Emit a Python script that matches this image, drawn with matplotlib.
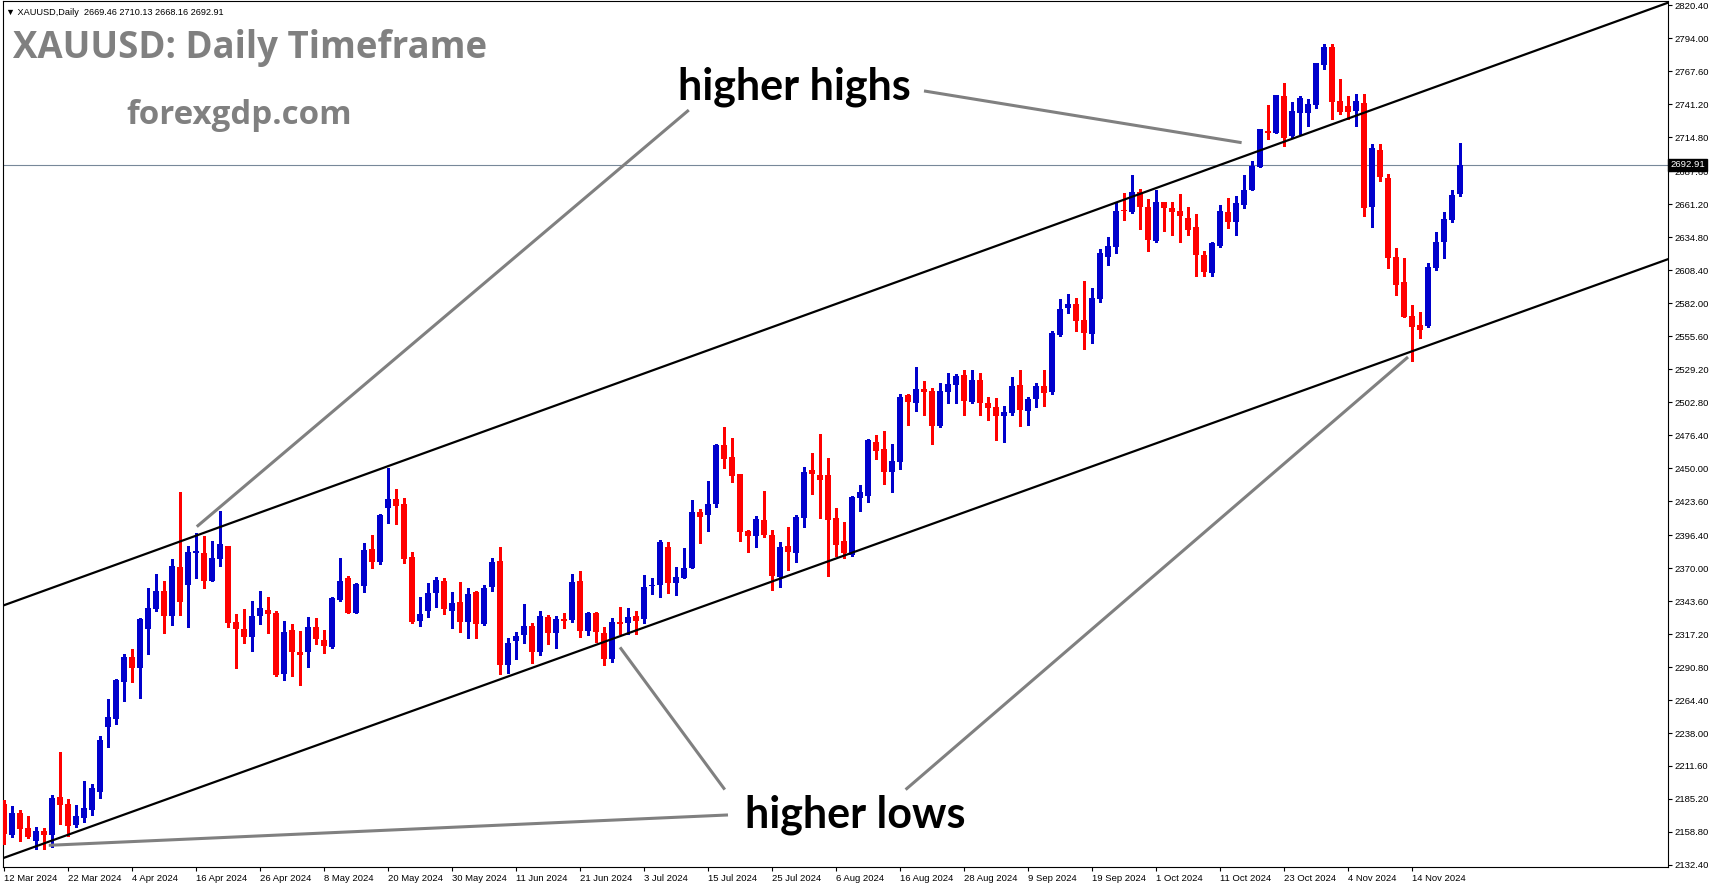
import numpy as np
import matplotlib
matplotlib.use("Agg")
import matplotlib.pyplot as plt
import matplotlib.transforms as mtransforms

# ---------------- data ----------------
opens = [2181.3, 2156.4, 2173.8, 2161.8, 2151.9, 2159.4, 2156.4, 2186.7, 2181.3, 2164.5,
         2169.8, 2176.5, 2190.7, 2242.9, 2249.5, 2279.0, 2299.1, 2289.7, 2321.0, 2337.1,
         2352.0, 2332.0, 2370.5, 2356.6, 2382.2, 2382.0, 2360.0, 2377.2, 2388.1, 2327.1,
         2321.2, 2315.0, 2331.7, 2336.8, 2334.4, 2285.6, 2320.4, 2303.0, 2303.0, 2323.1,
         2312.4, 2307.0, 2344.5, 2361.9, 2334.4, 2356.0, 2385.5, 2375.3, 2418.1, 2425.6,
         2421.3, 2379.3, 2327.9, 2335.9, 2350.4, 2360.0, 2335.9, 2343.2, 2327.1, 2351.2,
         2325.2, 2355.2, 2376.1, 2292.3, 2311.6, 2316.4, 2323.9, 2302.5, 2331.1, 2317.7,
         2329.0, 2328.4, 2360.0, 2319.9, 2334.3, 2318.2, 2297.6, 2327.1, 2325.7, 2331.9,
         2329.0, 2355.5, 2356.5, 2386.8, 2358.4, 2362.4, 2369.9, 2414.6, 2412.7, 2421.3,
         2468.9, 2458.7, 2445.4, 2400.1, 2395.9, 2408.2, 2396.2, 2362.7, 2387.4, 2382.0,
         2410.1, 2448.4, 2444.9, 2444.3, 2410.1, 2391.4, 2380.7, 2426.2, 2427.5, 2470.8,
         2465.5, 2446.8, 2454.8, 2508.6, 2502.4, 2513.7, 2511.8, 2483.7, 2511.3, 2516.6,
         2524.5, 2502.9, 2520.5, 2501.8, 2498.8, 2491.6, 2494.3, 2516.5, 2495.5, 2505.5,
         2515.7, 2510.9, 2556.6, 2578.6, 2581.8, 2568.7, 2557.7, 2585.8, 2619.3, 2627.3,
         2656.7, 2655.4, 2671.4, 2658.9, 2631.6, 2662.9, 2658.1, 2656.2, 2650.0, 2642.8,
         2620.9, 2605.9, 2628.1, 2655.4, 2646.8, 2661.0, 2673.1, 2691.5, 2719.9, 2718.3,
         2747.7, 2715.6, 2734.6, 2734.3, 2740.5, 2773.1, 2786.8, 2743.7, 2739.7, 2735.9,
         2742.4, 2658.9, 2704.4, 2682.1, 2619.3, 2598.7, 2571.9, 2564.7, 2563.9, 2610.2,
         2630.8, 2648.9, 2669.46]
highs = [2184.0, 2179.4, 2176.0, 2171.9, 2162.6, 2161.8, 2188.0, 2222.8, 2184.8, 2180.0,
         2199.2, 2197.4, 2235.6, 2265.6, 2280.9, 2300.9, 2304.9, 2329.8, 2353.9, 2365.2,
         2359.3, 2377.2, 2430.7, 2387.4, 2398.1, 2395.4, 2391.9, 2416.0, 2388.1, 2333.3,
         2337.0, 2344.0, 2352.0, 2346.7, 2336.0, 2327.9, 2325.3, 2319.9, 2331.1, 2329.8,
         2320.4, 2346.7, 2378.0, 2364.0, 2357.9, 2390.0, 2396.7, 2413.3, 2450.0, 2433.6,
         2426.1, 2383.3, 2347.2, 2357.9, 2363.2, 2361.9, 2351.2, 2359.2, 2354.4, 2352.0,
         2356.5, 2378.0, 2387.3, 2313.7, 2319.1, 2341.0, 2326.3, 2335.9, 2332.5, 2331.6,
         2334.3, 2365.1, 2368.0, 2334.6, 2334.6, 2323.1, 2330.3, 2339.1, 2337.8, 2335.6,
         2364.5, 2361.9, 2392.6, 2390.8, 2371.2, 2386.0, 2424.2, 2417.5, 2439.5, 2469.7,
         2483.1, 2474.3, 2445.4, 2400.7, 2411.4, 2431.4, 2400.7, 2390.6, 2402.6, 2412.2,
         2450.8, 2462.3, 2477.5, 2458.3, 2418.1, 2406.6, 2427.5, 2436.3, 2473.0, 2476.5,
         2479.7, 2469.5, 2509.6, 2509.6, 2531.3, 2519.8, 2514.5, 2517.9, 2526.0, 2525.7,
         2528.5, 2528.5, 2526.4, 2506.9, 2505.8, 2499.6, 2522.9, 2528.5, 2507.1, 2518.4,
         2528.5, 2559.9, 2585.8, 2589.8, 2586.6, 2600.0, 2594.6, 2625.4, 2634.8, 2662.9,
         2670.1, 2685.1, 2673.6, 2665.8, 2672.8, 2662.9, 2662.9, 2669.6, 2659.4, 2653.5,
         2624.1, 2631.3, 2661.0, 2666.4, 2668.2, 2685.1, 2696.3, 2721.8, 2740.5, 2748.5,
         2758.4, 2743.2, 2747.7, 2745.8, 2774.7, 2789.5, 2789.5, 2761.9, 2747.7, 2749.3,
         2749.3, 2709.7, 2709.7, 2685.6, 2626.2, 2618.2, 2580.7, 2575.1, 2614.2, 2639.3,
         2655.4, 2673.1, 2710.13]
lows = [2149.2, 2154.6, 2151.9, 2154.0, 2145.2, 2145.2, 2146.5, 2165.3, 2155.9, 2162.6,
        2166.6, 2172.5, 2186.1, 2226.8, 2245.5, 2263.7, 2279.0, 2266.1, 2301.2, 2336.0,
        2318.3, 2324.5, 2332.5, 2323.1, 2361.9, 2353.9, 2360.0, 2371.3, 2323.1, 2290.2,
        2310.3, 2303.8, 2325.0, 2318.3, 2283.8, 2280.8, 2283.8, 2276.3, 2290.5, 2308.9,
        2302.2, 2305.7, 2343.7, 2334.4, 2334.4, 2350.7, 2370.0, 2373.2, 2406.1, 2405.3,
        2373.9, 2325.8, 2323.9, 2331.1, 2339.2, 2333.0, 2321.8, 2319.1, 2313.7, 2314.3,
        2324.4, 2351.7, 2285.6, 2286.2, 2296.9, 2309.7, 2294.2, 2300.4, 2308.9, 2305.7,
        2322.3, 2326.6, 2315.0, 2316.4, 2311.0, 2292.3, 2295.0, 2317.2, 2317.2, 2317.2,
        2325.8, 2349.0, 2347.2, 2349.8, 2348.5, 2361.9, 2369.9, 2390.0, 2400.1, 2418.9,
        2450.2, 2438.9, 2392.1, 2382.7, 2386.8, 2395.3, 2352.6, 2354.7, 2368.1, 2375.3,
        2402.9, 2429.4, 2410.1, 2363.3, 2380.1, 2378.0, 2380.1, 2415.5, 2422.9, 2457.5,
        2437.4, 2430.7, 2449.4, 2484.5, 2495.7, 2492.5, 2469.5, 2482.9, 2501.9, 2501.9,
        2492.4, 2502.3, 2492.4, 2488.4, 2472.3, 2470.7, 2492.4, 2483.6, 2484.4, 2498.8,
        2499.6, 2509.5, 2555.8, 2574.6, 2559.9, 2545.7, 2549.9, 2583.1, 2612.6, 2621.9,
        2648.7, 2654.3, 2641.5, 2623.5, 2630.8, 2640.1, 2636.9, 2630.8, 2637.0, 2603.5,
        2604.0, 2603.5, 2627.3, 2642.0, 2636.9, 2658.1, 2672.3, 2691.0, 2713.2, 2718.3,
        2707.6, 2715.1, 2717.2, 2723.6, 2738.6, 2769.4, 2729.8, 2733.3, 2729.2, 2723.9,
        2651.6, 2642.8, 2679.7, 2609.9, 2588.8, 2571.4, 2535.8, 2554.0, 2563.1, 2608.8,
        2617.9, 2647.4, 2668.16]
closes = [2157.2, 2173.8, 2161.2, 2155.1, 2159.4, 2156.7, 2185.9, 2180.0, 2163.9, 2171.4,
          2177.8, 2193.9, 2232.7, 2250.9, 2280.3, 2299.1, 2289.7, 2329.0, 2338.4, 2352.0,
          2332.0, 2372.1, 2343.2, 2382.8, 2383.6, 2360.0, 2378.5, 2389.7, 2325.8, 2321.0,
          2314.5, 2331.9, 2337.8, 2333.5, 2284.8, 2319.1, 2302.5, 2300.4, 2323.1, 2312.9,
          2307.6, 2345.9, 2360.0, 2334.4, 2357.4, 2384.7, 2375.3, 2412.8, 2425.6, 2419.4,
          2377.1, 2327.1, 2333.3, 2350.4, 2360.6, 2337.0, 2342.4, 2326.6, 2349.3, 2325.2,
          2354.4, 2375.3, 2292.3, 2310.3, 2315.9, 2323.9, 2302.5, 2331.9, 2317.7, 2329.0,
          2327.6, 2359.2, 2319.9, 2333.8, 2318.5, 2296.9, 2327.1, 2325.0, 2331.1, 2327.9,
          2355.2, 2356.5, 2390.8, 2357.9, 2363.2, 2370.4, 2414.6, 2410.8, 2421.5, 2468.9,
          2457.4, 2444.0, 2398.8, 2395.9, 2409.2, 2396.2, 2363.3, 2386.6, 2382.8, 2410.6,
          2446.8, 2445.4, 2440.3, 2408.2, 2388.2, 2382.0, 2427.0, 2430.7, 2472.2, 2463.6,
          2446.8, 2455.6, 2507.2, 2503.0, 2513.7, 2511.3, 2483.7, 2511.8, 2517.1, 2523.8,
          2503.7, 2520.5, 2502.3, 2498.3, 2491.6, 2494.8, 2515.7, 2496.4, 2505.5, 2515.7,
          2510.3, 2558.0, 2577.8, 2581.8, 2567.9, 2558.5, 2586.6, 2621.9, 2628.1, 2656.2,
          2655.7, 2671.4, 2658.9, 2632.9, 2662.9, 2658.1, 2654.9, 2652.2, 2641.0, 2620.9,
          2606.7, 2630.0, 2656.2, 2647.4, 2662.1, 2673.1, 2692.3, 2721.2, 2718.3, 2748.5,
          2714.3, 2735.7, 2746.6, 2741.8, 2774.5, 2786.8, 2743.2, 2735.1, 2735.1, 2743.7,
          2658.1, 2706.2, 2682.9, 2617.9, 2596.8, 2571.4, 2563.3, 2560.7, 2611.2, 2631.3,
          2649.5, 2669.0, 2692.91]

date_labels = ["12 Mar 2024", "22 Mar 2024", "4 Apr 2024", "16 Apr 2024", "26 Apr 2024",
               "8 May 2024", "20 May 2024", "30 May 2024", "11 Jun 2024", "21 Jun 2024",
               "3 Jul 2024", "15 Jul 2024", "25 Jul 2024", "6 Aug 2024", "16 Aug 2024",
               "28 Aug 2024", "9 Sep 2024", "19 Sep 2024", "1 Oct 2024", "11 Oct 2024",
               "23 Oct 2024", "4 Nov 2024", "14 Nov 2024"]
bars_per_label = 8

price_labels = [2820.40, 2794.00, 2767.60, 2741.20, 2714.80, 2687.60, 2661.20, 2634.80,
                2608.40, 2582.00, 2555.60, 2529.20, 2502.80, 2476.40, 2450.00, 2423.60,
                2396.40, 2370.00, 2343.60, 2317.20, 2290.80, 2264.40, 2238.00, 2211.60,
                2185.20, 2158.80, 2132.40]

# channel lines (bar index, price) anchor pairs
upper_channel = [(0, 2340.3), (200, 2804.1)]
lower_channel = [(0, 2138.1), (200, 2598.9)]

# annotation pointer lines (bar index, price)
pointer_lines = [
    [(85.6, 2736.7), (24.1, 2403.2)],
    [(115.0, 2752.0), (154.7, 2710.6)],
    [(90.5, 2172.4), (5.6, 2148.1)],
    [(90.1, 2192.7), (77.0, 2306.6)],
    [(112.7, 2192.7), (175.5, 2539.0)],
]

symbol = "XAUUSD"
timeframe = "Daily"

# ---------------- figure ----------------
W, H = 1714, 888
fig = plt.figure(figsize=(W / 100, H / 100), dpi=100)
fig.patch.set_facecolor("white")
ax = fig.add_axes([2.7 / W, 1 - 867.3 / H, (1667.7 - 2.7) / W, (867.3 - 1.5) / H])
ax.set_facecolor("white")

n = len(opens)
x = np.arange(n)
o = np.array(opens); h = np.array(highs); l = np.array(lows); c = np.array(closes)
up = c >= o
cols = np.where(up, "#0000cc", "#ff0000")

ax.vlines(x, l, h, colors=cols, linewidth=0.8, antialiased=False, zorder=3)
body_bottom = np.minimum(o, c)
body_h = np.maximum(np.abs(c - o), 0.9)
ax.bar(x, body_h, bottom=body_bottom, width=0.72, color=cols, linewidth=0,
       antialiased=False, zorder=4)

ax.set_xlim(-0.16, 207.96)
ax.set_ylim(2130.5, 2823.6)

# last price line
ax.axhline(c[-1], color="#778899", linewidth=0.8, zorder=2)

# channel lines
for line in (upper_channel, lower_channel):
    ax.axline(line[0], line[1], color="black", linewidth=1.6, zorder=5)

# pointer lines
for (p0, p1) in pointer_lines:
    ax.plot([p0[0], p1[0]], [p0[1], p1[1]], color="#808080", linewidth=2.2,
            solid_capstyle="butt", zorder=6)

# annotation texts
ax.text(98.75, 2745.1, "higher highs", fontsize=31, fontweight="bold", family="Lato",
        color="black", ha="center", va="baseline", zorder=7)
ax.text(106.4, 2162.0, "higher lows", fontsize=31, fontweight="bold", family="Lato",
        color="black", ha="center", va="baseline", zorder=7)

fig.text(13.3 / W, 1 - 58.3 / H, f"{symbol}: {timeframe} Timeframe", fontsize=26.4,
         fontweight="bold", family="Open Sans", color="#808080", ha="left", va="baseline")
fig.text(126.7 / W, 1 - 124.5 / H, "forexgdp.com", fontsize=23.8,
         fontweight="bold", family="Open Sans", color="#808080", ha="left", va="baseline")
fig.text(6.0 / W, 1 - 15 / H,
         f"\u25BC {symbol},{timeframe}  {o[-1]:.2f} {h[-1]:.2f} {l[-1]:.2f} {c[-1]:.2f}",
         fontsize=6.6, family="Liberation Sans", color="black", ha="left", va="baseline")

# axes styling
for sp in ax.spines.values():
    sp.set_linewidth(0.8)
    sp.set_color("black")

ax.yaxis.tick_right()
ax.set_yticks(price_labels)
ax.set_yticklabels([f"{p:.2f}" for p in price_labels])
ax.tick_params(axis="y", direction="out", length=3, width=0.8, pad=2,
               labelsize=6.8, colors="black")
tick_pos = np.arange(len(date_labels)) * bars_per_label
ax.set_xticks(tick_pos)
ax.set_xticklabels(date_labels, ha="left")
ax.tick_params(axis="x", direction="out", length=3, width=0.8, pad=2,
               labelsize=6.8, colors="black")
for lab in ax.get_xticklabels() + ax.get_yticklabels():
    lab.set_family("Liberation Sans")

# current price box on axis
trans = mtransforms.blended_transform_factory(ax.transAxes, ax.transData)
trans = mtransforms.offset_copy(trans, fig=fig, x=2.5, y=0, units="dots")
ax.text(1.0, c[-1], f"{c[-1]:.2f}", transform=trans, ha="left", va="center",
        fontsize=6.8, family="Liberation Sans", color="white", clip_on=False,
        bbox=dict(boxstyle="square,pad=0.18", fc="black", ec="black"), zorder=10)

fig.savefig("out.png", dpi=100)
